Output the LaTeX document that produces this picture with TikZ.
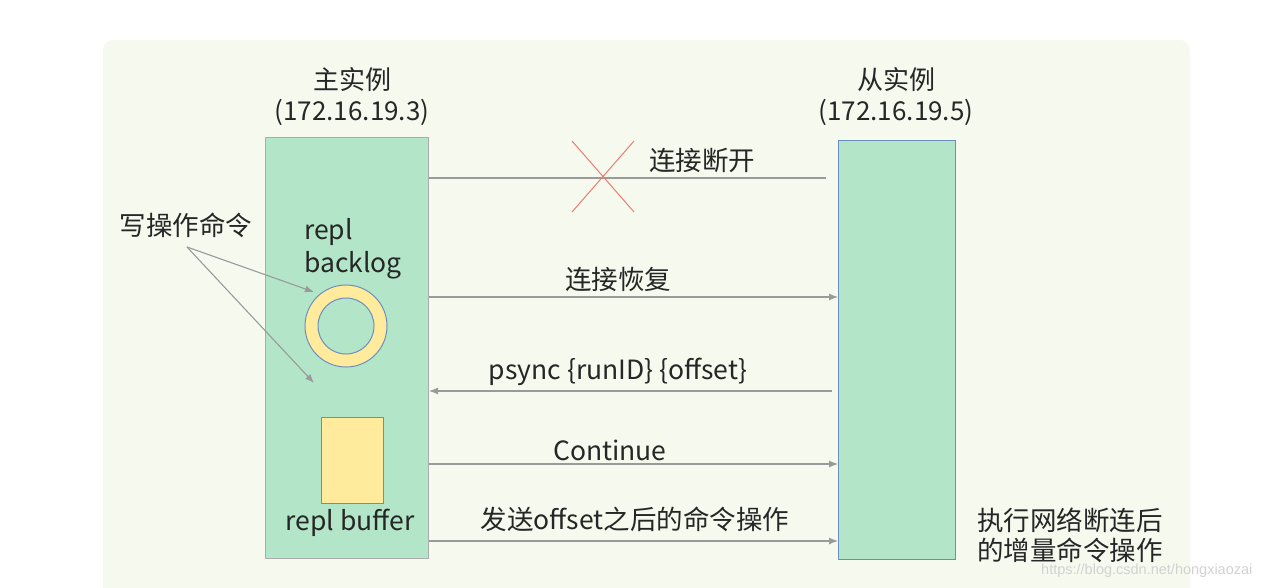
\documentclass[tikz,border=0pt]{standalone}
\usepackage{fontspec}
\setmainfont{Noto Sans CJK SC}
\newfontfamily\markfont{Liberation Sans}
\usetikzlibrary{arrows.meta}
\definecolor{bggreen}{HTML}{F5F9EE}
\definecolor{boxgreen}{HTML}{B3E6C8}
\definecolor{ringyellow}{HTML}{FFEB9B}
\definecolor{edgeblue}{HTML}{6C8EBF}
\definecolor{linegray}{HTML}{9A9A9A}
\definecolor{crossred}{HTML}{F07A70}
\tikzset{
  label text/.style={font=\fontsize{26.5}{31}\selectfont, text=black!85, inner sep=0pt},
  link/.style={draw=linegray, line width=1.1pt},
  instance/.style={fill=boxgreen, minimum width=#1, inner sep=0pt, anchor=north west},
}
\begin{document}
\begin{tikzpicture}[x=1pt,y=-1pt,>={Latex[length=9pt,width=7pt]}]
  \useasboundingbox (0,0) rectangle (1282,588);
  \clip (0,0) rectangle (1282,588);
  % Background
  \fill[bggreen, rounded corners=10pt] (103,40) rectangle (1190,610);
  % Instances
  \node[instance=163, draw=gray!65, line width=1pt, minimum height=421] (master) at (265,137) {};
  \node[instance=117, draw=edgeblue, line width=1pt, minimum height=419] (slave) at (838,140) {};
  \node[label text, align=center, font=\fontsize{26}{31}\selectfont] (mtitle) at (352,97) {主实例\\(172.16.19.3)};
  \node[label text, align=center, font=\fontsize{26}{31}\selectfont] (stitle) at (896,97) {从实例\\(172.16.19.5)};
  % Backlog ring and buffer
  \node[circle, draw=edgeblue, line width=1pt, fill=ringyellow, minimum size=82pt, inner sep=0pt] (backlog) at (346,326) {};
  \node[circle, draw=edgeblue, line width=1pt, fill=boxgreen, minimum size=56pt, inner sep=0pt] (hole) at (backlog) {};
  \node[label text, align=left, anchor=west, font=\fontsize{26.5}{33}\selectfont] (blname) at (304,249) {repl\\backlog};
  \node[draw=edgeblue, line width=1pt, fill=ringyellow, minimum width=62pt, minimum height=86pt, inner sep=0pt] (buffer) at (352,460) {};
  \node[label text] (bfname) at (350,523) {repl buffer};
  % Write commands
  \node[label text] (write) at (186,225) {写操作命令};
  \coordinate (wsrc) at (187,247);
  \coordinate (wring) at (314,292);
  \coordinate (wbuf) at (314,383);
  \draw[link,->] (wsrc) -- (wring);
  \draw[link,->] (wsrc) -- (wbuf);
  % Disconnect
  \draw[link] (master.east |- 0,178) -- ([xshift=-12pt]slave.west |- 0,178);
  \draw[crossred, line width=1pt] (572,141) -- (634,212) (634,141) -- (572,212);
  \node[label text] (lost) at (702,160) {连接断开};
  % Reconnect and sync
  \draw[link,->] (master.east |- 0,297) -- (slave.west |- 0,297);
  \node[label text] (back) at (618,279) {连接恢复};
  \draw[link,->] ([xshift=-6pt]slave.west |- 0,391) -- (master.east |- 0,391);
  \node[label text] (psync) at (618,372) {psync \{runID\} \{offset\}};
  \draw[link,->] (master.east |- 0,464) -- (slave.west |- 0,464);
  \node[label text] (cont) at (610,450) {Continue};
  \draw[link,->] (master.east |- 0,541) -- (slave.west |- 0,541);
  \node[label text] (send) at (635,519) {发送offset之后的命令操作};
  \node[label text, align=left, anchor=west, font=\fontsize{26.5}{30}\selectfont] (apply) at (977,535) {执行网络断连后\\的增量命令操作};
  % Watermark
  \node[anchor=west, inner sep=0pt, text=gray!35, font=\markfont\fontsize{14.5}{16}\selectfont] (mark) at (1041,571) {https://blog.csdn.net/hongxiaozai};
\end{tikzpicture}
\end{document}
